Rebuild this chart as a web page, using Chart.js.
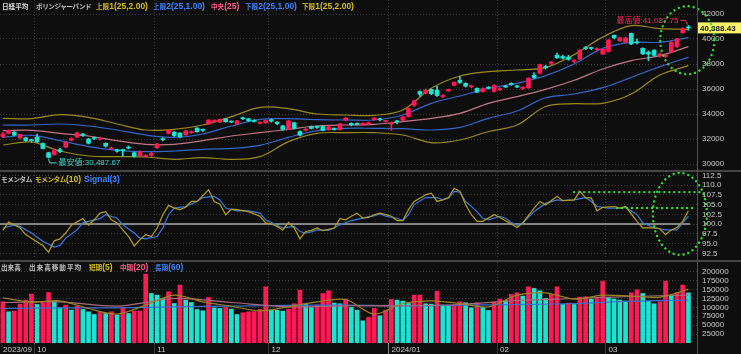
<!DOCTYPE html>
<html>
<head>
<meta charset="utf-8">
<script src="https://cdn.jsdelivr.net/npm/chart.js@4.4.1/dist/chart.umd.min.js"></script>
<style>
html, body { margin: 0; padding: 0; background: #0e0e0e; }
#wrap { position: relative; width: 741px; height: 354px; overflow: hidden; background: #0e0e0e;
        font-family: "Liberation Sans", "Noto Sans CJK JP", sans-serif; }
canvas { position: absolute; left: 0; }
.leg { position: absolute; font-size: 8.5px; font-weight: bold; white-space: nowrap; line-height: 10px; color: #c4c4c4; z-index: 3; }
.j { font-family: "Noto Sans CJK JP", sans-serif; font-size: 6.6px; }
.sep { position: absolute; left: 0; width: 741px; height: 2px; background: #454545; z-index: 2; }
.vsep { position: absolute; left: 697px; top: 0; width: 1px; height: 354px; background: #505050; z-index: 2; }
</style>
</head>
<body>
<div id="wrap">
  <canvas id="price" width="741" height="170" style="top:0"></canvas>
  <canvas id="mom" width="741" height="87" style="top:172px"></canvas>
  <canvas id="vol" width="741" height="92" style="top:262px"></canvas>
  <div class="sep" style="top:170px"></div>
  <div class="sep" style="top:260px"></div>
  <div class="vsep"></div>

  <span class="leg" style="left:2px;top:1px;color:#d8d8d8"><span class="j">日経平均</span></span>
  <span class="leg" style="left:36px;top:1px"><span class="j" style="letter-spacing:-0.45px">ボリンジャーバンド</span></span>
  <span class="leg" style="left:96px;top:1px;color:#d6bf1e"><span class="j">上限</span>1(25,2.00)</span>
  <span class="leg" style="left:153px;top:1px;color:#3d84ff"><span class="j">上限</span>2(25,1.00)</span>
  <span class="leg" style="left:211px;top:1px;color:#ff5f88"><span class="j">中央</span>(25)</span>
  <span class="leg" style="left:245px;top:1px;color:#3d84ff"><span class="j">下限</span>2(25,1.00)</span>
  <span class="leg" style="left:302px;top:1px;color:#d6bf1e"><span class="j">下限</span>1(25,2.00)</span>

  <span class="leg" style="left:1px;top:174px"><span class="j" style="letter-spacing:-0.4px">モメンタム</span></span>
  <span class="leg" style="left:35px;top:174px;color:#d6bf1e"><span class="j" style="letter-spacing:-0.4px">モメンタム</span>(10)</span>
  <span class="leg" style="left:84px;top:174px;color:#3d84ff">Signal(3)</span>

  <span class="leg" style="left:1px;top:262px"><span class="j">出来高</span></span>
  <span class="leg" style="left:29px;top:262px"><span class="j" style="letter-spacing:1px">出来高移動平均</span></span>
  <span class="leg" style="left:89px;top:262px;color:#d6bf1e"><span class="j">短期</span>(5)</span>
  <span class="leg" style="left:120px;top:262px;color:#ff5f88"><span class="j">中期</span>(20)</span>
  <span class="leg" style="left:155px;top:262px;color:#3d84ff"><span class="j">長期</span>(60)</span>
</div>

<script>
// 日経平均 daily bars, 2023/09/22 .. 2024/03/22
const opens = [32200,32450,32550,32100,32100,31950,32150,31650,30900,30750,31150,31350,31900,32150,32380,32000,32080,31980,31650,31200,
  31150,31150,31320,30900,30650,30600,30700,31300,32000,32450,32550,32480,32320,32500,32880,32780,33200,33400,33360,33600,
  33420,33200,33700,33620,33500,33250,33300,33550,33350,33050,32800,33300,32600,32700,33000,32980,33000,32750,32800,32750,
  33500,33250,33250,33150,33200,33550,33580,33400,33190,33400,33500,33800,34700,35800,35650,35970,35900,35400,35850,36300,
  36700,36450,36180,36050,35800,36100,35800,35950,36200,36450,36250,36050,36100,37100,37253,37800,38050,38700,38600,38550,
  38200,38400,39300,39300,39150,38800,39000,40300,39850,39750,40450,39700,39250,38950,39100,38650,38600,38950,39400,40500,40900];
const highs = [32520,32720,32600,32400,32150,32000,32400,31700,30950,31150,31250,31800,32100,32550,32450,32050,32150,32150,31700,31350,
  31200,31200,31450,30950,31050,30750,30950,31650,32100,32750,32600,32500,32700,32650,32900,32800,33550,33550,33600,33650,
  33450,33500,33750,33650,33550,33400,33520,33600,33400,33100,33500,33350,32650,32850,33050,33050,33050,33050,32900,33250,
  33750,33300,33300,33300,33350,33700,33650,33500,33350,33500,33800,34480,35100,35850,36000,36000,36239,35550,36000,36560,
  36984,36500,36300,36100,36100,36200,36350,36100,36300,36500,36300,36200,36900,37300,38000,37900,38200,38865,38700,38700,
  38350,39156,39400,39350,39300,39200,39990,40314,40150,40150,40472,39990,39300,39050,39150,38900,38800,39800,40050,40900,41087.75];
const lows = [32100,32400,32250,32000,31800,31750,31700,31200,30487.67,30700,30900,31300,31850,32100,32200,31600,31950,31900,31350,31150,
  30950,30600,31200,30550,30600,30550,30600,31250,31850,32400,32200,32100,32300,32450,32550,32600,33150,33350,33300,33350,
  33300,33150,33550,33400,33350,33200,33250,33350,33150,32700,32750,32800,32250,32650,32800,32850,32650,32700,32700,32700,
  33450,33050,33100,33100,33150,33500,33450,33350,32693,33200,33450,33750,34600,35400,35600,35550,35400,35300,35800,36250,
  36450,36150,36100,35700,35750,36000,35750,35850,36100,36300,36100,35950,36050,36850,37200,37600,37950,38450,38400,38300,
  38100,38350,39150,39150,39050,38750,38950,40000,39800,39700,39550,39600,38750,38271,38600,38550,38500,38900,39300,40450,40700];
const closes = [32402,32678,32315,32371,31872,31857,31759,31237,30526,31075,30994,31746,32040,32494,32315,31659,32040,32041,31430,31259,
  31019,31062,31269,30601,30991,30696,30858,31601,31950,32708,32271,32166,32646,32568,32585,32695,33519,33424,33585,33388,
  33354,33451,33625,33447,33408,33321,33486,33431,33231,32775,33445,32858,32307,32791,32843,32926,32686,32970,32758,33219,
  33675,33141,33169,33254,33305,33681,33540,33464,33288,33377,33763,34441,35049,35577,35901,35619,35477,35466,35963,36546,
  36517,36226,36236,35751,36026,36065,36286,36011,36158,36354,36160,36119,36863,36897,37963,37703,38157,38487,38470,38363,
  38262,39098,39233,39239,39208,39166,39910,40109,40097,40090,39598,39688,38820,38797,38695,38807,38707,39740,40003,40815,40888.43];

// Bollinger bands, read every 5 bars
const bandStep = 5;
const upper2 = [33653,33627,33947,33733,33200,32720,32773,33120,33787,34533,34427,34000,33920,33893,34320,36053,37040,37387,37520,37707,38750,40150,41067,40827,40773];
const upper1 = [33120,33120,33200,33040,32720,32320,32133,32400,33040,33573,33627,33547,33520,33520,33920,34853,35440,36053,36453,37067,38000,39253,39733,39733,40107];
const middle = [32667,32693,32453,32240,31867,31573,31573,31867,32240,32507,32773,33040,33120,33173,33387,33653,34053,34850,35387,35973,36700,37600,38267,38667,39387];
const lower1 = [32133,32293,31867,31387,31093,30987,31040,31173,31253,31493,32133,32667,32853,32853,32827,32720,32933,33653,34240,35300,35600,36107,36933,37787,38533];
const lower2 = [31520,31760,31040,30640,30587,30560,30373,30507,30373,30587,31787,32453,32507,32507,32320,31707,31920,32600,33120,34600,34827,34853,35600,37120,37867];

// モメンタム(10) and Signal(3), one slot per bar (null = not read)
const momentum = [98.4,100.5,99.8,99.0,97.3,null,95.4,94.5,92.8,95.7,96.2,97.7,99.7,null,101.4,99.7,101.1,102.8,103.2,101.1,
  100.3,98.5,96.8,94.4,96.0,97.3,96.8,99.0,102.4,104.8,104.1,103.7,104.3,105.8,105.8,null,108.8,105.8,105.1,102.4,
  103.8,103.7,null,103.2,null,102.0,100.3,100.0,99.4,98.5,100.4,99.0,96.2,98.1,98.4,99.0,98.3,null,99.0,101.4,
  101.1,102.0,102.8,101.5,101.7,102.4,102.8,102.4,102.0,100.9,100.9,103.7,105.8,null,107.5,107.9,105.8,106.2,106.8,109.2,
  108.4,105.0,102.4,100.7,100.7,null,102.4,101.7,null,100.0,99.1,100.3,null,104.1,105.8,104.9,null,107.1,106.0,null,
  106.2,108.4,106.7,106.7,103.4,104.3,null,104.5,104.1,104.5,null,100.7,99.0,null,99.0,98.8,97.3,98.5,99.1,100.7,103.4];
const signal = [99.0,null,99.7,99.4,null,97.7,null,95.6,null,94.1,94.5,96.4,null,98.5,100.3,100.7,null,101.4,102.4,null,
  101.5,99.8,null,97.7,96.4,96.2,null,96.8,99.0,102.4,104.1,null,104.5,null,105.8,106.8,null,107.1,106.2,104.1,
  null,103.4,null,103.4,null,102.8,101.1,null,99.7,99.0,null,99.4,98.1,97.7,98.0,98.5,null,98.4,99.0,99.8,
  null,100.9,null,101.5,101.9,102.1,102.6,102.0,null,101.5,100.9,102.4,105.0,null,106.8,null,106.8,106.2,106.6,108.4,
  108.2,105.8,null,103.2,101.5,101.1,null,102.0,101.5,100.4,99.7,100.3,null,103.2,null,105.3,null,106.2,106.0,null,
  106.2,null,106.8,105.8,104.5,null,104.1,null,104.1,104.3,null,102.4,100.3,null,99.0,98.8,98.5,null,98.5,100.3,102.0];
const momMarks = [108.2, 104.1]; // green dotted guide levels

// 出来高
const volume = [115400,87400,89300,108900,120100,136900,107900,113500,141500,117300,98600,106100,92100,103300,93900,87400,79900,85500,82700,87400,
  78100,98600,82700,89300,89800,192900,138700,134100,124700,143400,110700,162100,120100,113500,93900,90200,127500,98600,96700,99500,
  94900,79900,84600,87400,87600,93900,157400,92100,91500,89300,94900,109800,148100,108900,99500,106100,138700,146200,111700,109800,
  122900,99500,92100,62200,71500,96700,76200,92100,121900,120100,117300,110700,134100,134300,109800,108900,145300,106100,105900,106300,
  115400,112600,98600,112600,99500,91100,115400,122900,119100,135900,140600,131300,157400,152800,146200,124700,135900,157400,107900,111700,
  107900,128500,129400,122900,124700,173300,127500,122900,120100,117300,140600,149000,138700,117300,109800,115400,173300,134100,140600,162100,140400];
const volShort = [126600,114500,118200,96700,80900,106000,134100,115400,103000,90000,101400,115400,121900,80900,110700,118200,110700,101400,134100,140600,122900,134100,131300,128500,150000];
const volMid = [113500,115400,103300,124700,113500,101400,104200,104200,107900,119100,124700,130300,134100];
const volLong = [96700,98600,98600,101400,103300,105200,106100,104200,106100,107900,110700,117300,120100];
const shortStep = 5, longStep = 10;

// axes
const monthStarts = [0, 6, 27, 47, 68, 87, 106];
const monthLabels = ['2023/09', '10', '11', '12', '2024/01', '02', '03'];
const priceTicks = [30000, 32000, 34000, 36000, 38000, 40000, 42000];
const momTicks = [92.5, 95, 97.5, 100, 102.5, 105, 107.5, 110, 112.5];
const volTicks = [25000, 50000, 75000, 100000, 125000, 150000, 175000, 200000];

const RED = '#ff1a56', CYAN = '#1fe3d2';
const GOLD = '#9a8a1c', BLUE = '#3566c8', PINK = '#c27688';
const FONT = '"Liberation Sans","Noto Sans CJK JP",sans-serif';
const tickFont = { family: FONT, size: 8 };

const idx = closes.map((c, i) => i);
const candleColors = idx.map(i => closes[i] >= opens[i] ? RED : CYAN);
const volColors = volume.map((v, i) => (i === 0 || v >= volume[i - 1]) ? RED : CYAN);
const sampled = (arr, step) => arr.map((v, k) => ({ x: k * step, y: v }));
const perBar = arr => arr.map((v, i) => ({ x: i, y: v }));
const fmt2 = v => v.toLocaleString('en-US', { minimumFractionDigits: 2, maximumFractionDigits: 2 });

function xAxis(showLabels) {
  return {
    type: 'linear', min: -0.5, max: 121.5, offset: false,
    afterBuildTicks: s => { s.ticks = monthStarts.map(i => ({ value: i - 0.5 })); },
    afterFit: s => { s.height = showLabels ? 11 : 0; s.paddingLeft = 0; s.paddingRight = 0; },
    grid: {
      offset: false, drawTicks: showLabels, tickLength: 11,
      color: c => c.index === 0 ? 'rgba(0,0,0,0)' : '#3a3a3a',
      tickColor: c => c.index === 0 ? 'rgba(0,0,0,0)' : (c.index === 4 ? '#8a8a8a' : '#3a3a3a')
    },
    border: { display: false, dash: [1, 2] },
    ticks: {
      display: showLabels, autoSkip: false, maxRotation: 0, align: 'start', padding: -9, labelOffset: 3,
      color: '#c8c8c8', font: tickFont, callback: (v, i) => monthLabels[i]
    }
  };
}

function yAxis(min, max, ticks, fmt) {
  return {
    position: 'right', min: min, max: max,
    afterBuildTicks: s => { s.ticks = ticks.map(v => ({ value: v })); },
    afterFit: s => { s.width = 44; s.paddingTop = 0; s.paddingBottom = 0; },
    grid: { color: '#3a3a3a', drawTicks: false },
    border: { display: false, dash: [1, 2] },
    ticks: { autoSkip: false, color: '#c8c8c8', font: tickFont, padding: 5, callback: fmt }
  };
}

function dottedEllipse(ctx, cx, cy, rx, ry) {
  ctx.save();
  ctx.strokeStyle = '#2fe02f';
  ctx.lineWidth = 2.4;
  ctx.lineCap = 'round';
  ctx.setLineDash([0.01, 5]);
  ctx.beginPath();
  ctx.ellipse(cx, cy, rx, ry, 0, 0, Math.PI * 2);
  ctx.stroke();
  ctx.restore();
}

const baseOpts = {
  responsive: false, maintainAspectRatio: false, animation: false,
  layout: { padding: 0 },
  plugins: { legend: { display: false }, tooltip: { enabled: false } }
};

// price panel notes: record high / low, last price box, green circle
const priceNotes = {
  id: 'priceNotes',
  afterDraw(chart) {
    const { ctx, scales: { x, y }, chartArea } = chart;
    ctx.save();
    ctx.font = '8px ' + FONT;
    ctx.textBaseline = 'middle';

    const hiVal = Math.max(...highs), hiIdx = highs.indexOf(hiVal);
    const hx = x.getPixelForValue(hiIdx), hy = y.getPixelForValue(hiVal);
    const hiText = '最高値:' + fmt2(hiVal);
    const ty = hy - 5;
    ctx.fillStyle = '#ff2a5e';
    ctx.textAlign = 'right';
    ctx.fillText(hiText, hx - 10, ty);
    ctx.strokeStyle = '#ff2a5e';
    ctx.lineWidth = 1;
    ctx.beginPath();
    ctx.moveTo(hx - 8, ty); ctx.lineTo(hx - 3, ty); ctx.lineTo(hx - 1, hy - 1);
    ctx.stroke();

    const loVal = Math.min(...lows), loIdx = lows.indexOf(loVal);
    const lx = x.getPixelForValue(loIdx), ly = y.getPixelForValue(loVal);
    ctx.fillStyle = '#3ad8d0';
    ctx.strokeStyle = '#3ad8d0';
    ctx.textAlign = 'left';
    ctx.fillText('最安値:' + fmt2(loVal), lx + 10, ly + 5);
    ctx.beginPath();
    ctx.moveTo(lx, ly + 1); ctx.lineTo(lx + 1, ly + 5); ctx.lineTo(lx + 8, ly + 5);
    ctx.stroke();

    const last = closes[closes.length - 1];
    const py = y.getPixelForValue(last);
    ctx.fillStyle = '#f8f26a';
    ctx.fillRect(chartArea.right + 1, py - 5.5, 44, 11);
    ctx.fillStyle = '#1a1a1a';
    ctx.font = 'bold 8px ' + FONT;
    ctx.fillText(fmt2(last), chartArea.right + 3, py + 0.5);

    dottedEllipse(ctx, x.getPixelForValue(119.8), y.getPixelForValue(39900), 27, 34);
    ctx.restore();
  }
};

new Chart(document.getElementById('price'), {
  type: 'bar',
  data: {
    datasets: [
      { data: idx.map(i => ({ x: i, y: [opens[i], closes[i]] })), backgroundColor: candleColors,
        barThickness: 4, minBarLength: 1, grouped: false, order: 0 },
      { data: idx.map(i => ({ x: i, y: [lows[i], highs[i]] })), backgroundColor: candleColors,
        barThickness: 1, grouped: false, order: 1 },
      { type: 'line', data: sampled(upper2, bandStep), borderColor: GOLD, borderWidth: 1.2, pointRadius: 0, tension: 0.35, order: 2 },
      { type: 'line', data: sampled(upper1, bandStep), borderColor: BLUE, borderWidth: 1.2, pointRadius: 0, tension: 0.35, order: 2 },
      { type: 'line', data: sampled(middle, bandStep), borderColor: PINK, borderWidth: 1.2, pointRadius: 0, tension: 0.35, order: 2 },
      { type: 'line', data: sampled(lower1, bandStep), borderColor: BLUE, borderWidth: 1.2, pointRadius: 0, tension: 0.35, order: 2 },
      { type: 'line', data: sampled(lower2, bandStep), borderColor: GOLD, borderWidth: 1.2, pointRadius: 0, tension: 0.35, order: 2 }
    ]
  },
  options: Object.assign({}, baseOpts, {
    scales: { x: xAxis(false), y: yAxis(29520, 43120, priceTicks, v => String(v)) }
  }),
  plugins: [priceNotes]
});

const momNotes = {
  id: 'momNotes',
  afterDraw(chart) {
    const { ctx, scales: { x, y }, chartArea } = chart;
    ctx.save();
    ctx.strokeStyle = '#2fe02f';
    ctx.lineWidth = 2.4;
    ctx.lineCap = 'round';
    ctx.setLineDash([0.01, 5]);
    const starts = [100, 107.5];
    momMarks.forEach((m, k) => {
      const yy = y.getPixelForValue(m);
      ctx.beginPath();
      ctx.moveTo(x.getPixelForValue(starts[k]), yy);
      ctx.lineTo(chartArea.right + 3 - k * 4, yy);
      ctx.stroke();
    });
    ctx.restore();
    dottedEllipse(ctx, x.getPixelForValue(118.5), y.getPixelForValue(102.6), 27, 41);
  }
};

new Chart(document.getElementById('mom'), {
  type: 'line',
  data: {
    datasets: [
      { data: perBar(momentum), borderColor: '#b5a020', borderWidth: 1.2, pointRadius: 0, spanGaps: true },
      { data: perBar(signal), borderColor: '#3a7ae0', borderWidth: 1.2, pointRadius: 0, spanGaps: true },
      { data: [{ x: -0.5, y: 100 }, { x: 120.3, y: 100 }], borderColor: '#a8a8a8', borderWidth: 1.5, pointRadius: 0 }
    ]
  },
  options: Object.assign({}, baseOpts, {
    scales: { x: xAxis(false), y: yAxis(91.04, 113.35, momTicks, v => v.toFixed(1)) }
  }),
  plugins: [momNotes]
});

new Chart(document.getElementById('vol'), {
  type: 'bar',
  data: {
    datasets: [
      { data: perBar(volume), backgroundColor: volColors, barThickness: 4, grouped: false, order: 1 },
      { type: 'line', data: sampled(volShort, shortStep), borderColor: '#9a8420', borderWidth: 1.2, pointRadius: 0, tension: 0.3, order: 0 },
      { type: 'line', data: sampled(volMid, longStep), borderColor: '#a86a7c', borderWidth: 1.2, pointRadius: 0, tension: 0.3, order: 0 },
      { type: 'line', data: sampled(volLong, longStep), borderColor: '#3a6fd0', borderWidth: 1.2, pointRadius: 0, tension: 0.3, order: 0 }
    ]
  },
  options: Object.assign({}, baseOpts, {
    scales: { x: xAxis(true), y: yAxis(0, 226900, volTicks, v => String(v)) }
  })
});
</script>
</body>
</html>
